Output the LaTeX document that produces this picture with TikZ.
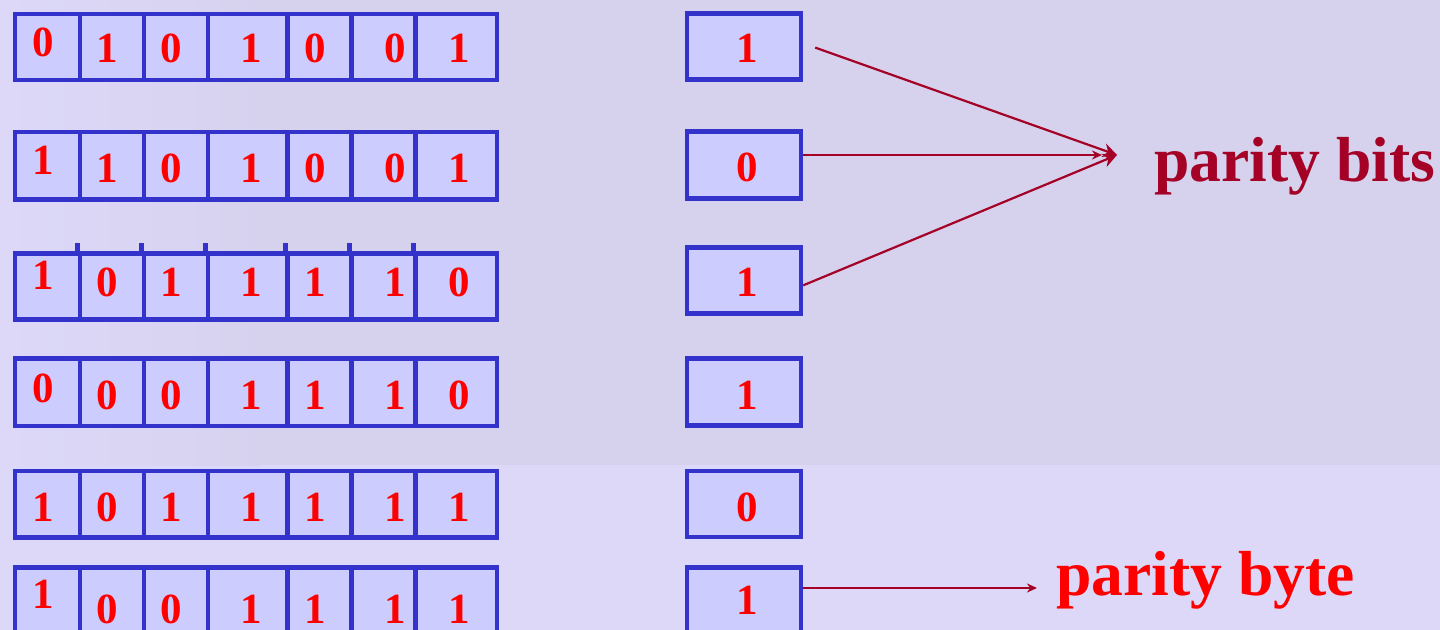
\documentclass[tikz,border=0pt]{standalone}
\usepackage{fontspec}
\setmainfont{Liberation Serif}
\usetikzlibrary{arrows.meta}
\definecolor{bg}{RGB}{221,216,248}
\definecolor{photo}{RGB}{214,210,238}
\definecolor{cellfill}{RGB}{204,204,255}
\definecolor{cellline}{RGB}{51,51,204}
\definecolor{digitred}{RGB}{255,0,0}
\definecolor{darkred}{RGB}{165,0,38}
\tikzset{
  cellbox/.style={draw=cellline, fill=cellfill, line width=2.35pt, inner sep=0pt, anchor=north west},
  digit/.style={text=digitred, font=\bfseries\fontsize{21.5}{21.5}\selectfont, inner sep=0pt, anchor=base},
  conn/.style={draw=darkred, line width=1.1pt},
  bigtip/.style={-{Stealth[length=7pt,width=7pt]}},
  smalltip/.style={-{Stealth[length=5pt,width=4.5pt]}},
  biglabel/.style={font=\bfseries\fontsize{31.8}{31.8}\selectfont, inner sep=0pt, anchor=base west}
}
\begin{document}
\begin{tikzpicture}[x=0.5pt,y=-0.5pt]
\useasboundingbox (0,0) rectangle (1440,630);
\clip (0,0) rectangle (1440,630);
% background
\fill[bg] (0,0) rectangle (1440,630);
\shade[left color=bg, right color=photo] (0,0) rectangle (260,465);
\fill[photo] (259,0) rectangle (1440,465);
% data rows
\def\xsL{{12.5,77.7,141.7,205.7,285.3,349.3,413.3,494.5}}
\def\cxL{{43,107,171,251,315,395,459}}
\foreach \r/\t/\b/\bfirst/\bo/\d in {
  1/11.7/77.7/57/63/{0,1,0,1,0,0,1},
  2/129.7/197/175/183/{1,1,0,1,0,0,1},
  3/251.5/317.5/290/297/{1,0,1,1,1,1,0},
  4/356.3/423.7/403/409/{0,0,0,1,1,1,0},
  5/468.7/535/521/521/{1,0,1,1,1,1,1},
  6/565/632/608/623/{1,0,0,1,1,1,1}}{
  \foreach \v [count=\c] in \d {
    \pgfmathsetmacro\xa{\xsL[\c-1]}
    \pgfmathsetmacro\xb{\xsL[\c]}
    \pgfmathsetmacro\cw{(\xb-\xa)*0.5}
    \pgfmathsetmacro\ch{(\b-\t)*0.5}
    \pgfmathsetmacro\cx{\cxL[\c-1]}
    \pgfmathsetmacro\bl{\c==1 ? \bfirst : \bo}
    \node[cellbox, minimum width=\cw pt, minimum height=\ch pt] (r\r c\c) at (\xa,\t) {};
    \node[digit] (d\r c\c) at (\cx,\bl) {\v};
  }
}
% small ticks above row 3 dividers
\foreach \c in {2,...,7} {
  \draw[cellline, line width=2.35pt] (r3c\c.north west) -- ++(0,-8);
}
% parity column
\foreach \r/\t/\b/\bl/\v in {
  1/11/77.5/63/1,
  2/129.5/196/182/0,
  3/245/311/297/1,
  4/356.5/423.5/409/1,
  5/468.5/534.5/521/0,
  6/565/632/614/1}{
  \pgfmathsetmacro\ch{(\b-\t)*0.5}
  \node[cellbox, minimum width=57pt, minimum height=\ch pt] (p\r) at (684.5,\t) {};
  \node[digit] (pd\r) at (747,\bl) {\v};
}
% arrows
\coordinate (tipA) at (1117,155);
\coordinate (tipB) at (1102,155);
\coordinate (tipC) at (1037,588);
\draw[conn, bigtip] ([xshift=6pt,yshift=-0.5pt]p1.east) -- (tipA);
\draw[conn, smalltip] (p2.east |- tipB) -- (tipB);
\draw[conn, bigtip] ([yshift=-2.5pt]p3.east) -- (tipA);
\draw[conn, smalltip] (p6.east |- tipC) -- (tipC);
% labels
\node[biglabel, text=darkred] (lbits) at (1154,182) {parity bits};
\node[biglabel, text=digitred] (lbyte) at (1056,595) {parity byte};
\end{tikzpicture}
\end{document}
